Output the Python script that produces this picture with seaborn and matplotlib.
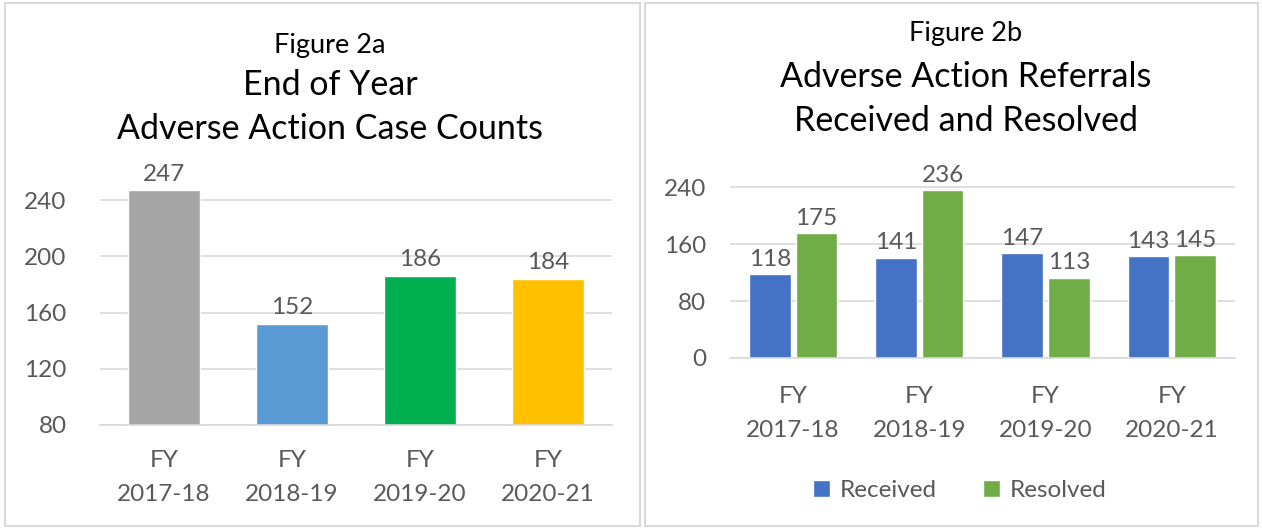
import pandas as pd
import numpy as np
import matplotlib.pyplot as plt
import seaborn as sns
from matplotlib.patches import Rectangle

# Figure 2a data
years = ['FY\n2017-18', 'FY\n2018-19', 'FY\n2019-20', 'FY\n2020-21']
case_counts = [247, 152, 186, 184]
case_colors = ['#A5A5A5', '#5B9BD5', '#00B050', '#FFC000']

# Figure 2b data
received = [118, 141, 147, 143]
resolved = [175, 236, 113, 145]
series_names = ['Received', 'Resolved']
series_colors = ['#4472C4', '#70AD47']

sns.set_theme(style='white')
plt.rcParams['font.family'] = ['Lato', 'DejaVu Sans']

TXT = '#595959'
GRID = '#D9D9D9'

fig = plt.figure(figsize=(12.62, 5.29), dpi=100)

# panel borders
for x0, x1 in [(5, 640), (645, 1258)]:
    fig.patches.append(Rectangle((x0 / 1262, 3 / 529), (x1 - x0) / 1262, 523 / 529,
                                 transform=fig.transFigure, fill=False,
                                 edgecolor=GRID, linewidth=1.5))

# ---- Figure 2a ----
ax1 = fig.add_axes([0.0792, 0.1966, 0.4057, 0.4518])
df1 = pd.DataFrame({'year': years, 'count': case_counts})
sns.barplot(data=df1, x='year', y='count', hue='year', palette=case_colors,
            legend=False, width=0.56, saturation=1, ax=ax1)
ax1.set_ylim(80, 250)
ax1.set_xlim(-0.5, 3.5)
ax1.set_yticks([80, 120, 160, 200, 240])
for c in ax1.containers:
    ax1.bar_label(c, padding=4, fontsize=17.5, color=TXT)

# ---- Figure 2b ----
ax2 = fig.add_axes([0.5784, 0.3233, 0.4002, 0.3365])
df2 = pd.DataFrame({
    'year': years * 2,
    'value': received + resolved,
    'series': [series_names[0]] * 4 + [series_names[1]] * 4,
})
sns.barplot(data=df2, x='year', y='value', hue='series', palette=series_colors,
            width=0.74, gap=0.11, saturation=1, ax=ax2)
ax2.set_ylim(0, 250)
ax2.set_xlim(-0.5, 3.5)
ax2.set_yticks([0, 80, 160, 240])
for c in ax2.containers:
    ax2.bar_label(c, padding=3, fontsize=17.5, color=TXT)

leg = ax2.legend(loc='upper center', bbox_to_anchor=(0.455, -0.565), ncol=2,
                 frameon=False, fontsize=17.5, handlelength=0.7, handleheight=0.7,
                 columnspacing=1.9, handletextpad=0.4)
for t in leg.get_texts():
    t.set_color(TXT)

for ax, ypad, xpad in [(ax1, 24, 18), (ax2, 17, 20)]:
    ax.set_xlabel('')
    ax.set_ylabel('')
    ax.grid(axis='y', color=GRID, linewidth=1.2)
    ax.set_axisbelow(True)
    for s in ['top', 'right', 'left']:
        ax.spines[s].set_visible(False)
    ax.spines['bottom'].set_color(GRID)
    ax.spines['bottom'].set_linewidth(1.2)
    ax.tick_params(axis='y', length=0, pad=ypad, labelsize=17.5, labelcolor=TXT)
    ax.tick_params(axis='x', length=0, pad=xpad, labelsize=17.5, labelcolor=TXT)
    for lab in ax.get_xticklabels():
        lab.set_linespacing(1.75)

# titles
fig.text(330 / 1262, 1 - 45 / 529, 'Figure 2a', ha='center', va='center', fontsize=19.5, color='black')
fig.text(330 / 1262, 1 - 85 / 529, 'End of Year', ha='center', va='center', fontsize=24.5, color='black')
fig.text(330 / 1262, 1 - 129 / 529, 'Adverse Action Case Counts', ha='center', va='center', fontsize=24.5, color='black')
fig.text(966 / 1262, 1 - 33 / 529, 'Figure 2b', ha='center', va='center', fontsize=19.5, color='black')
fig.text(966 / 1262, 1 - 77 / 529, 'Adverse Action Referrals', ha='center', va='center', fontsize=24.5, color='black')
fig.text(966 / 1262, 1 - 121 / 529, 'Received and Resolved', ha='center', va='center', fontsize=24.5, color='black')

fig.savefig('out.png', dpi=100, facecolor='white')
